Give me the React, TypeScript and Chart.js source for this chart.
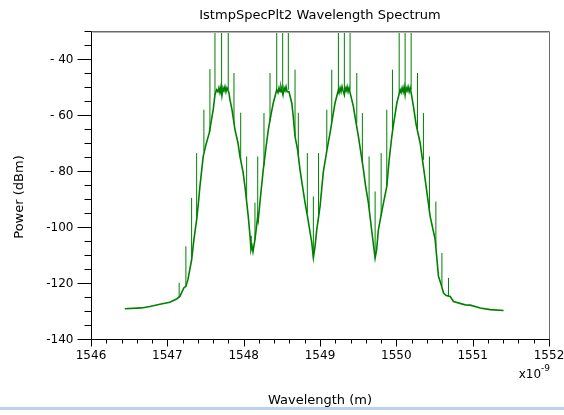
import React, { useEffect, useRef } from "react";
import { Chart, registerables } from "chart.js";

Chart.register(...registerables);

// ---- text ----
const chartTitle = "IstmpSpecPlt2 Wavelength Spectrum";
const xAxisTitle = "Wavelength (m)";
const yAxisTitle = "Power (dBm)";
const xMultiplierBase = "x10";
const xMultiplierExp = "-9";

// ---- axes ----
const xMin = 1546;
const xMax = 1552;
const yMin = -140;
const yMax = -30;
const xTickValues = [1546, 1547, 1548, 1549, 1550, 1551, 1552];
const xTickLabels = ["1546", "1547", "1548", "1549", "1550", "1551", "1552"];
const xMinorStep = 0.2;
const yTickValues = [-40, -60, -80, -100, -120, -140];
const yTickLabels = ["- 40", "- 60", "- 80", "-100", "-120", "-140"];
const yMinorStep = 5;

// ---- spectrum trace (wavelength in nm, power in dBm) ----
const spectrumNm = [
  1546.443, 1546.662, 1546.771, 1546.902, 1547.033, 1547.121, 1547.165, 1547.217, 1547.243, 1547.270,
  1547.318, 1547.348, 1547.384, 1547.405, 1547.427, 1547.470, 1547.506, 1547.549, 1547.601, 1547.624,
  1547.646, 1547.663, 1547.676, 1547.689, 1547.702, 1547.715, 1547.729, 1547.742, 1547.755, 1547.768,
  1547.781, 1547.807, 1547.820, 1547.847, 1547.886, 1547.925, 1547.951, 1547.991, 1548.017, 1548.060,
  1548.083, 1548.096, 1548.109, 1548.122, 1548.148, 1548.184, 1548.191, 1548.227, 1548.257, 1548.292,
  1548.323, 1548.358, 1548.388, 1548.433, 1548.450, 1548.463, 1548.476, 1548.489, 1548.515, 1548.529,
  1548.542, 1548.555, 1548.568, 1548.594, 1548.630, 1548.647, 1548.673, 1548.706, 1548.738, 1548.778,
  1548.804, 1548.843, 1548.892, 1548.913, 1548.935, 1548.957, 1549.001, 1549.044, 1549.092, 1549.132,
  1549.171, 1549.197, 1549.241, 1549.250, 1549.263, 1549.276, 1549.289, 1549.302, 1549.319, 1549.329,
  1549.342, 1549.355, 1549.368, 1549.381, 1549.394, 1549.437, 1549.466, 1549.503, 1549.569, 1549.597,
  1549.634, 1549.687, 1549.722, 1549.742, 1549.765, 1549.814, 1549.875, 1549.906, 1549.941, 1549.962,
  1550.007, 1550.050, 1550.063, 1550.076, 1550.089, 1550.102, 1550.115, 1550.128, 1550.141, 1550.154,
  1550.168, 1550.181, 1550.194, 1550.224, 1550.260, 1550.312, 1550.378, 1550.443, 1550.509, 1550.552,
  1550.588, 1550.618, 1550.653, 1550.706, 1550.749, 1550.902, 1550.968, 1551.099, 1551.230, 1551.405,
];
const spectrumDbm = [
  -129.2, -128.9, -128.4, -127.6, -126.9, -125.7, -124.8, -121.7, -121.2, -118.8,
  -111.7, -104.5, -97.4, -92.0, -85.5, -74.8, -70.6, -66.4, -58.1, -52.8,
  -51.0, -51.7, -50.3, -52.0, -50.0, -53.1, -50.3, -51.3, -49.9, -51.7,
  -50.3, -52.0, -54.5, -58.1, -65.2, -69.9, -74.8, -80.2, -85.5, -96.2,
  -103.1, -108.1, -106.7, -108.8, -104.5, -96.2, -97.4, -87.4, -79.5, -71.7,
  -65.2, -59.9, -55.7, -51.0, -52.0, -50.3, -51.7, -49.9, -52.8, -50.3,
  -51.3, -49.9, -51.7, -51.7, -55.7, -59.9, -67.6, -72.4, -79.5, -86.7,
  -91.3, -97.4, -105.6, -111.0, -107.0, -101.0, -92.6, -80.2, -72.4, -66.4,
  -59.9, -55.7, -51.0, -52.0, -50.3, -51.7, -49.9, -51.3, -52.8, -50.3,
  -51.3, -49.9, -51.7, -50.3, -52.0, -56.9, -61.7, -67.6, -79.5, -85.3,
  -91.4, -103.4, -111.1, -108.1, -101.0, -93.8, -85.5, -76.0, -67.6, -63.5,
  -55.7, -51.0, -52.0, -50.3, -51.7, -49.9, -52.8, -50.3, -51.3, -49.9,
  -51.7, -50.3, -52.0, -56.9, -63.5, -70.0, -83.1, -96.2, -104.5, -117.6,
  -120.6, -123.6, -124.5, -124.8, -126.6, -127.8, -127.9, -128.9, -129.5, -129.8,
];

// ---- narrow spurs rising from the trace ----
const spikeNm = [
  1547.155, 1547.243, 1547.318, 1547.384, 1547.479, 1547.558, 1547.624, 1547.711, 1547.798, 1547.873,
  1547.961, 1548.039, 1548.148, 1548.184, 1548.266, 1548.345, 1548.433, 1548.511, 1548.585, 1548.673,
  1548.716, 1548.834, 1548.913, 1548.981, 1549.089, 1549.154, 1549.241, 1549.319, 1549.394, 1549.482,
  1549.555, 1549.643, 1549.722, 1549.801, 1549.875, 1549.949, 1550.037, 1550.115, 1550.194, 1550.277,
  1550.355, 1550.434, 1550.518, 1550.597, 1550.683,
];
const spikeBaseDbm = [
  -125.1, -121.2, -111.7, -97.4, -73.0, -66.0, -52.8, -51.0, -51.0, -63.0,
  -76.0, -90.0, -104.5, -96.2, -78.0, -62.0, -51.0, -51.0, -51.0, -67.6,
  -74.0, -95.0, -111.0, -98.0, -72.0, -62.0, -51.0, -51.0, -51.0, -63.0,
  -77.0, -93.0, -111.0, -96.0, -85.5, -66.0, -52.0, -51.0, -51.0, -65.0,
  -76.0, -95.0, -107.0, -121.0, -124.7,
];
const spikeTopDbm = [
  -119.9, -106.9, -89.6, -73.6, -58.1, -43.6, -30, -30, -30, -45.0,
  -59.2, -74.8, -91.3, -74.8, -59.3, -45.0, -30, -30, -30, -43.8,
  -59.2, -73.6, -89.1, -73.6, -58.1, -43.8, -30, -30, -30, -45.0,
  -59.3, -74.8, -87.3, -73.6, -58.1, -43.8, -30, -30, -30, -45.0,
  -59.3, -74.8, -90.9, -109.3, -118.2,
];

const traceColor = "#008000";
const FONT = "DejaVu Sans";

const framePlugin = {
  id: "framePlugin",
  afterDraw(chart: any) {
    const { ctx, chartArea: a, scales } = chart;
    const xs = scales.x;
    const ys = scales.y;
    const L = Math.floor(a.left) + 0.5;
    const R = Math.floor(a.right) + 0.5;
    const T = Math.floor(a.top) + 0.5;
    const B = Math.floor(a.bottom) + 0.5;
    ctx.save();

    // top / right frame (grey)
    ctx.lineWidth = 1;
    ctx.strokeStyle = "#6a6a6a";
    ctx.beginPath();
    ctx.moveTo(L, T);
    ctx.lineTo(R, T);
    ctx.lineTo(R, B);
    ctx.stroke();
    ctx.strokeStyle = "#b4b4b4";
    ctx.beginPath();
    ctx.moveTo(L + 1, T + 1);
    ctx.lineTo(R - 1, T + 1);
    ctx.stroke();

    // left / bottom axes (black)
    ctx.strokeStyle = "#000";
    ctx.beginPath();
    ctx.moveTo(L, T);
    ctx.lineTo(L, B);
    ctx.lineTo(R, B);
    ctx.stroke();

    // y ticks
    const yMajLen = 14;
    const yMinLen = 7;
    ctx.beginPath();
    for (let v = yMin; v <= yMax + 1e-6; v += yMinorStep) {
      const major = yTickValues.some((t) => Math.abs(t - v) < 1e-6);
      const py = Math.round(ys.getPixelForValue(v)) + 0.5;
      ctx.moveTo(L - (major ? yMajLen : yMinLen), py);
      ctx.lineTo(L, py);
    }
    // x ticks
    const xMajLen = 7;
    const xMinLen = 4;
    const n = Math.round((xMax - xMin) / xMinorStep);
    for (let i = 0; i <= n; i++) {
      const v = xMin + i * xMinorStep;
      const major = xTickValues.some((t) => Math.abs(t - v) < 1e-6);
      const px = Math.round(xs.getPixelForValue(v)) + 0.5;
      ctx.moveTo(px, B);
      ctx.lineTo(px, B + (major ? xMajLen : xMinLen));
    }
    ctx.stroke();

    ctx.fillStyle = "#000";
    ctx.font = `12px "${FONT}"`;
    // y labels
    ctx.textAlign = "right";
    ctx.textBaseline = "middle";
    yTickValues.forEach((v, i) => {
      ctx.fillText(yTickLabels[i], L - yMajLen - 4, ys.getPixelForValue(v) + 1);
    });
    // x labels
    ctx.textAlign = "center";
    ctx.textBaseline = "alphabetic";
    xTickValues.forEach((v, i) => {
      ctx.fillText(xTickLabels[i], xs.getPixelForValue(v), B + 19);
    });

    // multiplier
    ctx.textAlign = "right";
    ctx.font = `9px "${FONT}"`;
    const expW = ctx.measureText(xMultiplierExp).width;
    ctx.fillText(xMultiplierExp, a.right + 1, B + 31);
    ctx.font = `12px "${FONT}"`;
    ctx.fillText(xMultiplierBase, a.right + 1 - expW, B + 38);

    // axis titles
    const cx = (a.left + a.right) / 2;
    ctx.textAlign = "center";
    ctx.font = `13px "${FONT}"`;
    ctx.fillText(xAxisTitle, cx, B + 64);
    ctx.fillText(chartTitle, cx, 19);
    ctx.save();
    ctx.translate(23, 197);
    ctx.rotate(-Math.PI / 2);
    ctx.fillText(yAxisTitle, 0, 0);
    ctx.restore();

    // bottom light-blue rule
    ctx.fillStyle = "#bcd3ef";
    ctx.fillRect(0, 407, chart.width, 3);
    ctx.restore();
  },
};

export default function App() {
  const ref = useRef<HTMLCanvasElement | null>(null);
  useEffect(() => {
    const canvas = ref.current;
    if (!canvas) return;
    const trace = spectrumNm.map((x, i) => ({ x, y: spectrumDbm[i] }));
    const spikes: { x: number; y: number | null }[] = [];
    spikeNm.forEach((x, i) => {
      spikes.push({ x, y: spikeBaseDbm[i] });
      spikes.push({ x, y: spikeTopDbm[i] });
      spikes.push({ x, y: null });
    });
    const chart = new Chart(canvas, {
      type: "line",
      data: {
        datasets: [
          {
            data: trace as any,
            borderColor: traceColor,
            borderWidth: 1.6,
            pointRadius: 0,
            tension: 0,
            clip: 0,
          },
          {
            data: spikes as any,
            borderColor: traceColor,
            borderWidth: 1,
            pointRadius: 0,
            tension: 0,
            spanGaps: false,
            clip: 0,
          },
        ],
      },
      options: {
        responsive: false,
        animation: false,
        devicePixelRatio: 1,
        layout: { padding: { left: 91, right: 15, top: 31, bottom: 76 } },
        plugins: { legend: { display: false }, title: { display: false }, tooltip: { enabled: false } },
        events: [],
        scales: {
          x: { type: "linear", min: xMin, max: xMax, display: false },
          y: { type: "linear", min: yMin, max: yMax, display: false },
        },
      },
      plugins: [framePlugin],
    });
    return () => chart.destroy();
  }, []);
  return (
    <div style={{ position: "fixed", left: 0, top: 0, width: 564, height: 415, background: "#fff" }}>
      <canvas ref={ref} width={564} height={415} style={{ display: "block" }} />
    </div>
  );
}
